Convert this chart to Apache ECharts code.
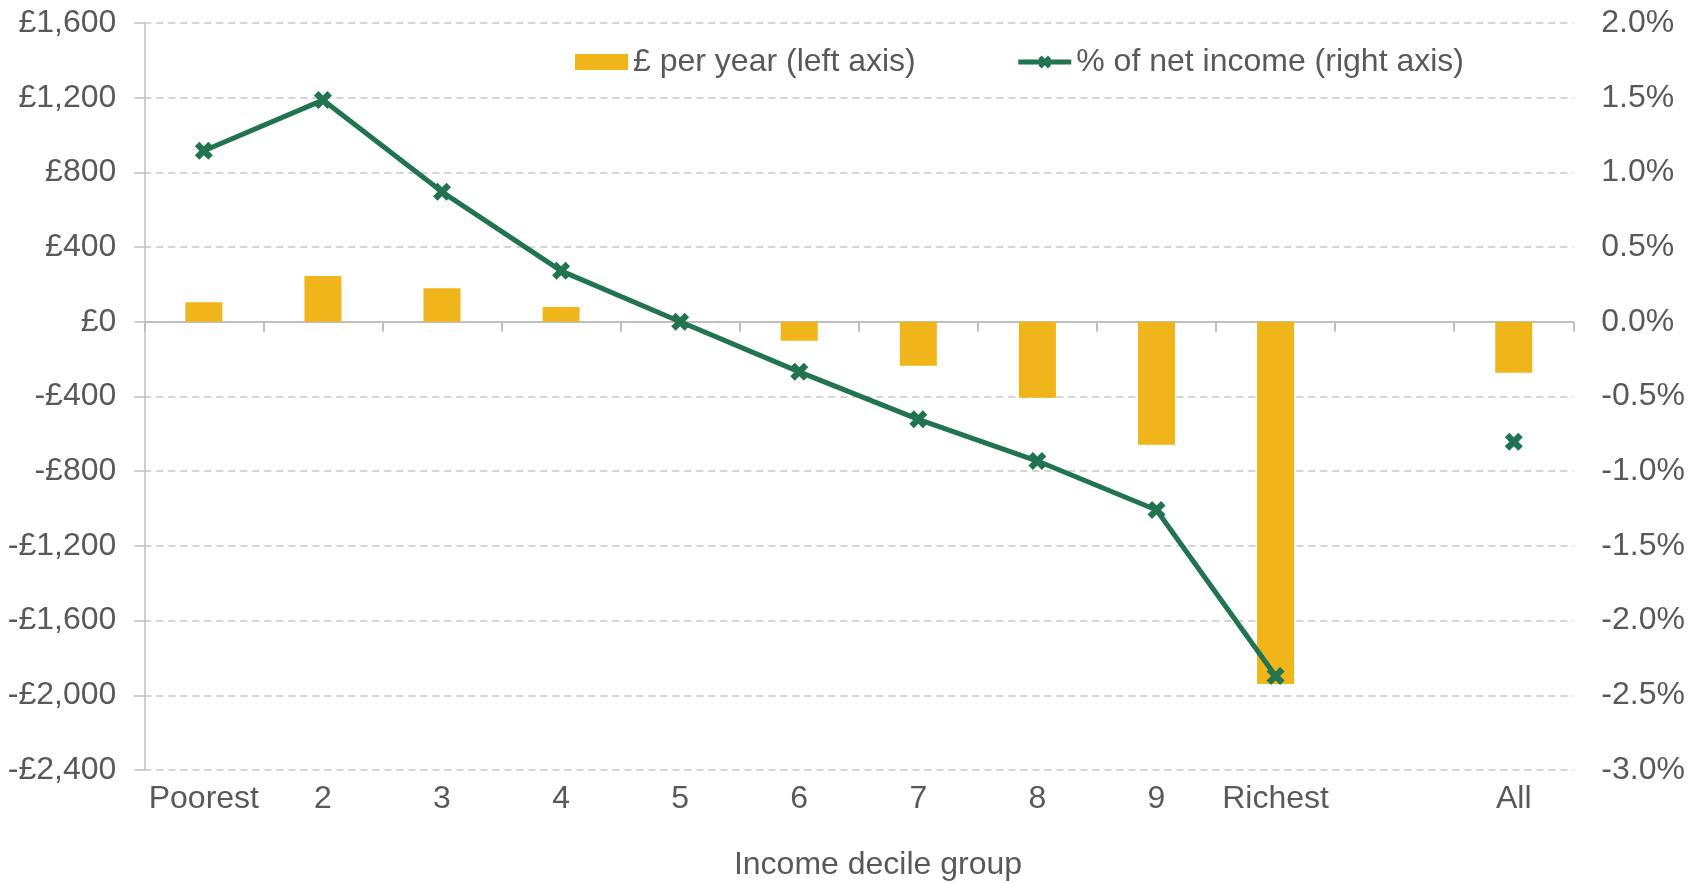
<!DOCTYPE html>
<html>
<head>
<meta charset="utf-8">
<script src="https://cdn.jsdelivr.net/npm/echarts@6/dist/echarts.min.js"></script>
<style>
  html, body { margin: 0; padding: 0; background: #ffffff; }
  #chart { width: 1702px; height: 883px; }
</style>
</head>
<body>
<div id="chart"></div>
<script>
const categories = ['Poorest', '2', '3', '4', '5', '6', '7', '8', '9', 'Richest', '', 'All'];
const poundsPerYear = [105, 245, 180, 79, 0, -102, -236, -407, -659, -1940, null, -273];
const pctNetIncome = [1.145, 1.484, 0.870, 0.341, 0.0, -0.335, -0.653, -0.932, -1.260, -2.371, null, -0.803];
const seriesNames = ['£ per year (left axis)', '% of net income (right axis)'];
const xAxisTitle = 'Income decile group';

const FONT = "'Liberation Sans', Arial, sans-serif";
const FS = 32;
const TEXT = '#595959';
const GRID = '#C6C6C6';
const AXIS = '#BFBFBF';
const BAR = '#F0B51A';
const LINE = '#21744F';
const XSYM = 'path://M0,4 L4,0 L8,4 L12,0 L16,4 L12,8 L16,12 L12,16 L8,12 L4,16 L0,12 L4,8 Z';

function fmtPound(v) {
  const a = Math.abs(v).toLocaleString('en-GB');
  return (v < 0 ? '-£' : '£') + a;
}

const chart = echarts.init(document.getElementById('chart'), null, { renderer: 'canvas' });
chart.setOption({
  animation: false,
  backgroundColor: '#ffffff',
  textStyle: { fontFamily: FONT },
  grid: { left: 144.3, right: 128.7, top: 23, bottom: 113, containLabel: false },
  legend: {
    left: 570, top: 41,
    itemWidth: 53, itemHeight: 16, itemGap: 100,
    textStyle: { fontFamily: FONT, fontSize: FS, color: TEXT },
    data: [
      { name: seriesNames[0], icon: 'rect' },
      { name: seriesNames[1], lineStyle: { width: 5, color: LINE }, itemStyle: { color: LINE } }
    ]
  },
  graphic: [{
    type: 'text', x: 878, y: 865,
    style: { text: xAxisTitle, font: FS + 'px ' + FONT, fill: TEXT, textAlign: 'center', textVerticalAlign: 'middle' }
  }],
  xAxis: [
    {
      type: 'category', data: categories, position: 'bottom',
      axisLine: { show: true, onZero: true, onZeroAxisIndex: 0, lineStyle: { color: AXIS, width: 2 } },
      axisTick: { show: true, length: 10, lineStyle: { color: AXIS, width: 2 } },
      axisLabel: { show: false },
      splitLine: { show: false }
    },
    {
      type: 'category', data: categories, position: 'bottom',
      axisLine: { show: false, onZero: false },
      axisTick: { show: false },
      axisLabel: { show: true, margin: 13, fontSize: FS, color: TEXT, fontFamily: FONT, interval: 0 },
      splitLine: { show: false }
    }
  ],
  yAxis: [
    {
      type: 'value', position: 'left', min: -2400, max: 1600, interval: 400,
      axisLine: { show: true, lineStyle: { color: AXIS, width: 1.5 } },
      axisTick: { show: true, length: 10, lineStyle: { color: AXIS, width: 1.5 } },
      axisLabel: { margin: 28, fontSize: FS, color: TEXT, fontFamily: FONT, formatter: fmtPound },
      splitLine: { show: true, lineStyle: { color: GRID, width: 1.5, type: [7, 5] } }
    },
    {
      type: 'value', position: 'right', min: -3, max: 2, interval: 0.5,
      axisLine: { show: false }, axisTick: { show: false },
      axisLabel: { margin: 28, fontSize: FS, color: TEXT, fontFamily: FONT, formatter: v => v.toFixed(1) + '%' },
      splitLine: { show: false }
    }
  ],
  series: [
    {
      name: seriesNames[0], type: 'bar', xAxisIndex: 0, yAxisIndex: 0,
      data: poundsPerYear, barWidth: 37,
      itemStyle: { color: BAR }, z: 2
    },
    {
      name: seriesNames[1], type: 'line', xAxisIndex: 0, yAxisIndex: 1,
      data: pctNetIncome, connectNulls: false, showSymbol: true, showAllSymbol: true,
      symbol: XSYM, symbolSize: 18,
      lineStyle: { color: LINE, width: 5 },
      itemStyle: { color: LINE },
      z: 3
    }
  ]
});
</script>
</body>
</html>
